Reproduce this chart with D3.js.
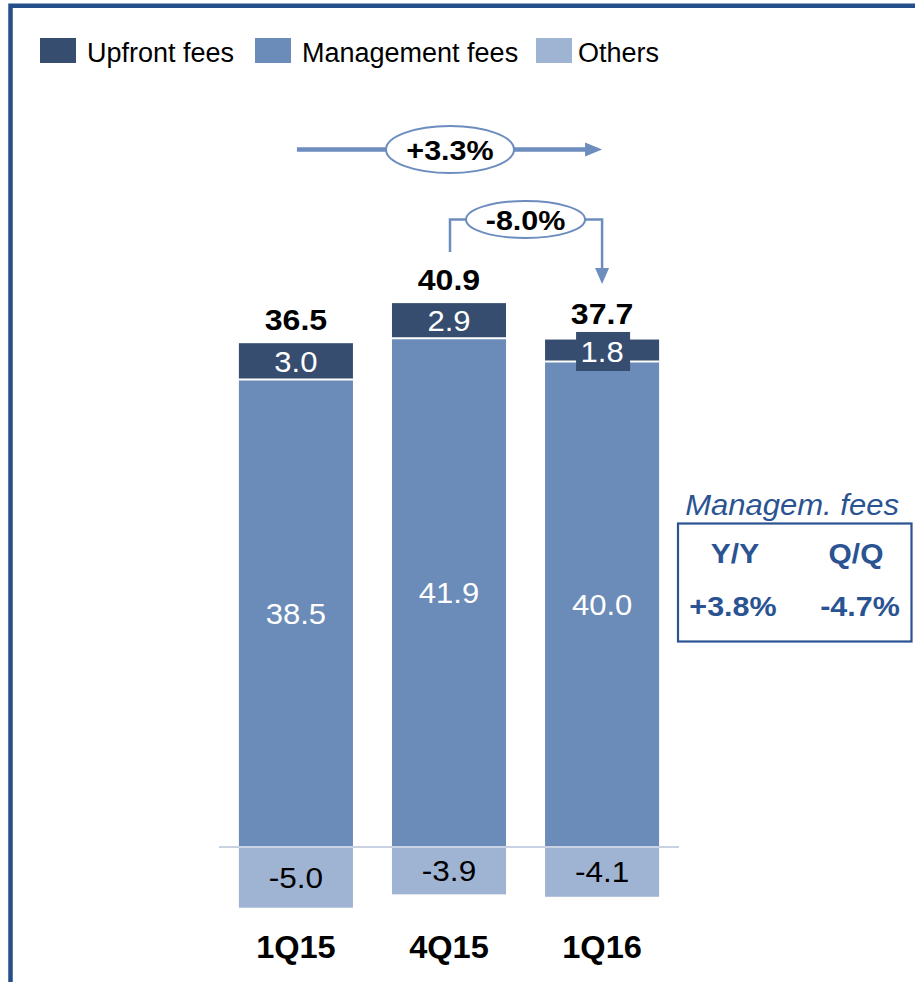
<!DOCTYPE html>
<html>
<head>
<meta charset="utf-8">
<script src="https://cdn.jsdelivr.net/npm/d3@7"></script>
<style>
  html, body { margin: 0; padding: 0; background: #fff; }
  svg { display: block; font-family: "Liberation Sans", Arial, sans-serif; }
</style>
</head>
<body>
<svg id="chart" width="915" height="982"></svg>
<script>
// Quarterly fee breakdown (EUR m)
const categories = ["1Q15", "4Q15", "1Q16"];
const upfrontFees = [3.0, 2.9, 1.8];
const managementFees = [38.5, 41.9, 40.0];
const others = [-5.0, -3.9, -4.1];
const seriesNames = ["Upfront fees", "Management fees", "Others"];
const seriesColors = ["#364d6f", "#6b8bb8", "#9fb3d3"];
const changeYoY = "+3.3%";
const changeQoQ = "-8.0%";
const mgmtHeaders = ["Y/Y", "Q/Q"];
const mgmtChanges = ["+3.8%", "-4.7%"];
const mgmtTitle = "Managem. fees";

const svg = d3.select("#chart");
const SX = 1.07;           // horizontal widening of the chart lettering
const arrowBlue = "#6d8dbf";
const navy = "#2a5392";

// helper: text placed at (x, y) with a slight horizontal stretch
function label(g, x, y, txt, opts = {}) {
  return g.append("text")
    .attr("transform", `translate(${x},${y}) scale(${opts.sx ?? SX},1)`)
    .attr("text-anchor", opts.anchor || "middle")
    .attr("font-size", opts.size || 29)
    .attr("font-weight", opts.weight || "normal")
    .attr("font-style", opts.style || "normal")
    .attr("fill", opts.fill || "#000")
    .text(txt);
}

// frame (left and top edges)
svg.append("path")
  .attr("d", "M10.5,982 V5.75 H915")
  .attr("fill", "none").attr("stroke", "#244f8b").attr("stroke-width", 4.5);

// legend
const legendX = [40, 255, 536];
seriesNames.forEach((name, i) => {
  svg.append("rect").attr("x", legendX[i]).attr("y", 38).attr("width", 36).attr("height", 25)
    .attr("fill", seriesColors[i]);
  svg.append("text").attr("x", legendX[i] + (i === 2 ? 42 : 47)).attr("y", 62)
    .attr("font-size", 27).attr("fill", "#000").text(name);
});

// scales
const x = d3.scaleBand().domain(categories).range([219, 679]).paddingInner(0.255).paddingOuter(0.13);
const k = 12.14;
const y = d3.scaleLinear().domain([-6, 46]).range([847 + 6 * k, 847 - 46 * k]);
const bw = x.bandwidth();
const xc = c => x(c) + bw / 2;

const rows = categories.map((c, i) => ({
  cat: c,
  up: upfrontFees[i],
  mg: managementFees[i],
  ot: others[i],
  total: +(upfrontFees[i] + managementFees[i] + others[i]).toFixed(1)
}));

const bars = svg.append("g");
rows.forEach(d => {
  // others (below zero)
  bars.append("rect").attr("x", x(d.cat)).attr("width", bw)
    .attr("y", y(0)).attr("height", y(d.ot) - y(0)).attr("fill", seriesColors[2]);
  // management fees
  bars.append("rect").attr("x", x(d.cat)).attr("width", bw)
    .attr("y", y(d.mg)).attr("height", y(0) - y(d.mg)).attr("fill", seriesColors[1]);
  // upfront fees stacked on top
  bars.append("rect").attr("x", x(d.cat)).attr("width", bw)
    .attr("y", y(d.mg + d.up)).attr("height", y(d.mg) - y(d.mg + d.up)).attr("fill", seriesColors[0]);
  // white separator between stacked segments
  bars.append("line").attr("x1", x(d.cat)).attr("x2", x(d.cat) + bw)
    .attr("y1", y(d.mg)).attr("y2", y(d.mg)).attr("stroke", "#fff").attr("stroke-width", 2);
});

// zero line
svg.append("line").attr("x1", 219).attr("x2", 679).attr("y1", y(0)).attr("y2", y(0))
  .attr("stroke", "#c9d2e3").attr("stroke-width", 2);

// value labels
const labels = svg.append("g");
rows.forEach(d => {
  const cx = xc(d.cat);
  const upTop = y(d.mg + d.up), upBot = y(d.mg);
  const upMid = (upTop + upBot) / 2;
  const small = (upBot - upTop) < 30;
  let totalBase = upTop - 13;
  if (small) {
    const boxH = 39, boxW = 54, boxC = upMid + 1;
    labels.append("rect").attr("x", cx - boxW / 2 + 1).attr("y", boxC - boxH / 2)
      .attr("width", boxW).attr("height", boxH).attr("fill", seriesColors[0]);
    label(labels, cx, boxC + 10.4, d.up.toFixed(1), { fill: "#fff" });
    totalBase = boxC - boxH / 2 - 8;
  } else {
    label(labels, cx, upMid + 10.4, d.up.toFixed(1), { fill: "#fff" });
  }
  label(labels, cx, (y(d.mg) + y(0)) / 2 + 10.4, d.mg.toFixed(1), { fill: "#fff" });
  label(labels, cx, (y(0) + y(d.ot)) / 2 + 10.6, d.ot.toFixed(1), { size: 29.5 });
  label(labels, cx, totalBase, d.total.toFixed(1), { size: 30, weight: "bold" });
  label(labels, cx, 958, d.cat, { size: 31, weight: "bold", sx: 1.05 });
});

// Y/Y arrow across the whole period
const ann = svg.append("g");
const x0 = xc(categories[0]), x1 = xc(categories[1]), x2 = xc(categories[2]);
const topY = 149.5;
ann.append("line").attr("x1", x0 + 1).attr("x2", x2 - 14).attr("y1", topY).attr("y2", topY)
  .attr("stroke", arrowBlue).attr("stroke-width", 4.5);
ann.append("path").attr("d", `M${x2 - 17},${topY - 7} L${x2},${topY} L${x2 - 17},${topY + 7} Z`)
  .attr("fill", arrowBlue);
const e1x = (x0 + x2) / 2 + 1;
ann.append("ellipse").attr("cx", e1x).attr("cy", topY).attr("rx", 64).attr("ry", 23.5)
  .attr("fill", "#fff").attr("stroke", arrowBlue).attr("stroke-width", 2);
label(ann, e1x, topY + 10, changeYoY, { size: 28.5, weight: "bold" });

// Q/Q connector
const qY = 219.5;
const e2x = (x1 + x2) / 2;
ann.append("path").attr("d", `M${x1 + 1},252 V${qY} H${e2x} M${e2x},${qY} H${x2} V270`)
  .attr("fill", "none").attr("stroke", arrowBlue).attr("stroke-width", 2.5);
ann.append("path").attr("d", `M${x2 - 7},268 L${x2},284 L${x2 + 7},268 Z`).attr("fill", arrowBlue);
ann.append("ellipse").attr("cx", e2x).attr("cy", qY).attr("rx", 59.5).attr("ry", 18.5)
  .attr("fill", "#fff").attr("stroke", arrowBlue).attr("stroke-width", 2);
label(ann, e2x, qY + 10, changeQoQ, { size: 28.5, weight: "bold" });

// management fee growth box
const box = svg.append("g");
label(box, 792, 515, mgmtTitle, { size: 29, style: "italic", fill: navy });
box.append("rect").attr("x", 678).attr("y", 523.5).attr("width", 233.5).attr("height", 118)
  .attr("fill", "none").attr("stroke", navy).attr("stroke-width", 2.2);
const colX = [735, 856];
mgmtHeaders.forEach((h, i) => label(box, colX[i], 563, h, { size: 28, weight: "bold", fill: navy }));
mgmtChanges.forEach((v, i) => label(box, colX[i] + (i === 0 ? -2 : 4), 616, v, { size: 28.5, weight: "bold", fill: navy }));
</script>
</body>
</html>
